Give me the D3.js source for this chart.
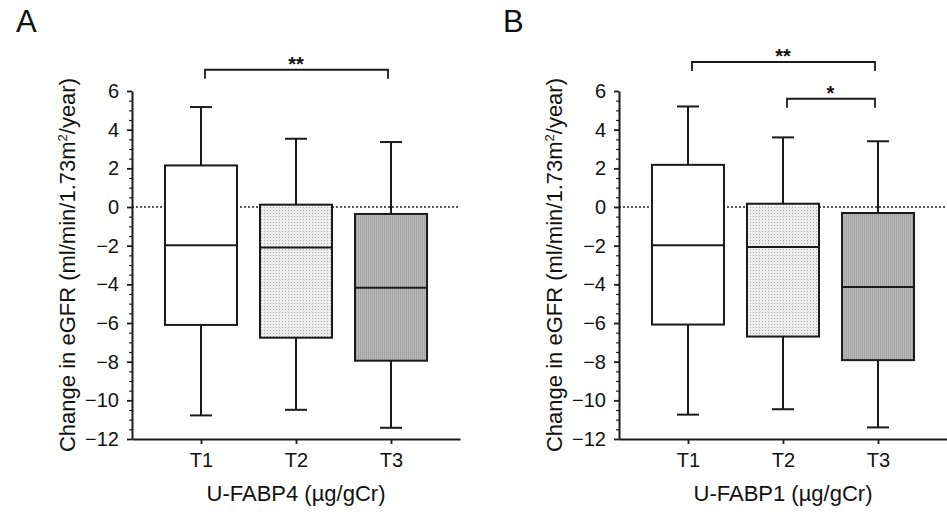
<!DOCTYPE html>
<html>
<head>
<meta charset="utf-8">
<script src="https://cdn.jsdelivr.net/npm/d3@7"></script>
<style>
  body { margin: 0; background: #fff; }
  text { font-family: "Liberation Sans", Arial, sans-serif; fill: #111; }
</style>
</head>
<body>
<svg id="chart" width="947" height="512"></svg>
<script>
// tertile groups on the x axis
var categories = ["T1", "T2", "T3"];
var yTicks = [-12, -10, -8, -6, -4, -2, 0, 2, 4, 6];

// box summaries: [low whisker, Q1, median, Q3, high whisker]
var fabp4Low    = [-10.78, -10.49, -11.42];
var fabp4Q1     = [-6.10, -6.76, -7.95];
var fabp4Median = [-1.98, -2.10, -4.18];
var fabp4Q3     = [2.15, 0.12, -0.36];
var fabp4High   = [5.17, 3.53, 3.36];

var fabp1Low    = [-10.74, -10.46, -11.40];
var fabp1Q1     = [-6.08, -6.70, -7.92];
var fabp1Median = [-1.98, -2.07, -4.14];
var fabp1Q3     = [2.18, 0.17, -0.31];
var fabp1High   = [5.20, 3.60, 3.40];

// significance brackets: [from, to, level(y value), label]
var fabp4Sig = [["T1", "T3", 7.1, "**"]];
var fabp1Sig = [["T1", "T3", 7.5, "**"], ["T2", "T3", 5.6, "*"]];

var panels = [
  { letter: "A", title: "U-FABP4 (\u00b5g/gCr)", x0: 132, x1: 460,
    low: fabp4Low, q1: fabp4Q1, med: fabp4Median, q3: fabp4Q3, high: fabp4High, sig: fabp4Sig },
  { letter: "B", title: "U-FABP1 (\u00b5g/gCr)", x0: 619, x1: 947,
    low: fabp1Low, q1: fabp1Q1, med: fabp1Median, q3: fabp1Q3, high: fabp1High, sig: fabp1Sig }
];

var svg = d3.select("#chart");
var plotTop = 91, plotBottom = 439, boxW = 72, capW = 22;

// fills: white, light dotted, gray striped
var defs = svg.append("defs");
var dots = defs.append("pattern").attr("id", "dots").attr("patternUnits", "userSpaceOnUse")
  .attr("width", 3).attr("height", 3);
dots.append("rect").attr("width", 3).attr("height", 3).attr("fill", "#eeeeee");
dots.append("rect").attr("width", 1).attr("height", 1).attr("fill", "#aaaaaa");
var stripes = defs.append("pattern").attr("id", "stripes").attr("patternUnits", "userSpaceOnUse")
  .attr("width", 2).attr("height", 2);
stripes.append("rect").attr("width", 2).attr("height", 2).attr("fill", "#bababa");
stripes.append("rect").attr("width", 1).attr("height", 2).attr("fill", "#a4a4a4");
var fills = ["#ffffff", "url(#dots)", "url(#stripes)"];

var y = d3.scaleLinear().domain([-12, 6]).range([plotBottom, plotTop]);

panels.forEach(function(p) {
  var x = d3.scalePoint().domain(categories).range([p.x0, p.x1]).padding(0.726);
  var g = svg.append("g");

  // panel letter
  g.append("text").attr("x", p.x0 - 116).attr("y", 32)
    .style("font-size", "31px").text(p.letter);

  // zero reference line
  g.append("line").attr("x1", p.x0).attr("x2", p.x1)
    .attr("y1", y(0)).attr("y2", y(0))
    .attr("stroke", "#222").attr("stroke-width", 1.3).attr("stroke-dasharray", "2,2");

  var boxes = categories.map(function(c, i) {
    return { cat: c, low: p.low[i], q1: p.q1[i], med: p.med[i], q3: p.q3[i], high: p.high[i], fill: fills[i] };
  });

  var b = g.selectAll(".box").data(boxes).enter().append("g").attr("class", "box");
  // whiskers
  b.append("line").attr("x1", d => x(d.cat)).attr("x2", d => x(d.cat))
    .attr("y1", d => y(d.high)).attr("y2", d => y(d.q3))
    .attr("stroke", "#1a1a1a").attr("stroke-width", 2);
  b.append("line").attr("x1", d => x(d.cat)).attr("x2", d => x(d.cat))
    .attr("y1", d => y(d.q1)).attr("y2", d => y(d.low))
    .attr("stroke", "#1a1a1a").attr("stroke-width", 2);
  b.append("line").attr("x1", d => x(d.cat) - capW / 2).attr("x2", d => x(d.cat) + capW / 2)
    .attr("y1", d => y(d.high)).attr("y2", d => y(d.high))
    .attr("stroke", "#1a1a1a").attr("stroke-width", 2);
  b.append("line").attr("x1", d => x(d.cat) - capW / 2).attr("x2", d => x(d.cat) + capW / 2)
    .attr("y1", d => y(d.low)).attr("y2", d => y(d.low))
    .attr("stroke", "#1a1a1a").attr("stroke-width", 2);
  // box
  b.append("rect").attr("x", d => x(d.cat) - boxW / 2).attr("width", boxW)
    .attr("y", d => y(d.q3)).attr("height", d => y(d.q1) - y(d.q3))
    .attr("fill", d => d.fill).attr("stroke", "#1a1a1a").attr("stroke-width", 2);
  b.append("line").attr("x1", d => x(d.cat) - boxW / 2).attr("x2", d => x(d.cat) + boxW / 2)
    .attr("y1", d => y(d.med)).attr("y2", d => y(d.med))
    .attr("stroke", "#1a1a1a").attr("stroke-width", 2);

  // y axis with minor ticks
  var minor = d3.range(-12, 6.01, 0.5).filter(v => yTicks.indexOf(v) < 0);
  g.append("g").attr("transform", "translate(" + p.x0 + ",0)")
    .call(d3.axisLeft(y).tickValues(minor).tickSize(3).tickFormat(""))
    .call(a => a.select(".domain").remove())
    .selectAll("line").attr("stroke", "#222").attr("stroke-width", 1.2);
  var ya = g.append("g").attr("transform", "translate(" + p.x0 + ",0)")
    .call(d3.axisLeft(y).tickValues(yTicks).tickSize(5).tickSizeOuter(0).tickPadding(8));
  ya.select(".domain").attr("stroke", "#1a1a1a").attr("stroke-width", 2);
  ya.selectAll("line").attr("stroke", "#1a1a1a").attr("stroke-width", 1.8);
  ya.selectAll("text").style("font-size", "20px").style("font-family", "Liberation Sans, Arial, sans-serif").attr("fill", "#111");

  // x axis
  var xa = g.append("g").attr("transform", "translate(0," + plotBottom + ")")
    .call(d3.axisBottom(x).tickSize(5).tickSizeOuter(0).tickPadding(9));
  xa.select(".domain").attr("stroke", "#1a1a1a").attr("stroke-width", 2);
  xa.selectAll("line").attr("stroke", "#1a1a1a").attr("stroke-width", 1.8);
  xa.selectAll("text").style("font-size", "20px").style("font-family", "Liberation Sans, Arial, sans-serif").attr("fill", "#111");

  // axis titles
  g.append("text").attr("x", x("T2")).attr("y", 501).attr("text-anchor", "middle")
    .style("font-size", "22px").text(p.title);
  var yt = g.append("text").attr("text-anchor", "middle")
    .attr("transform", "translate(" + (p.x0 - 57) + "," + ((plotTop + plotBottom) / 2) + ") rotate(-90)")
    .style("font-size", "22px");
  yt.append("tspan").text("Change in eGFR (ml/min/1.73m");
  yt.append("tspan").attr("dy", -8).style("font-size", "13px").text("2");
  yt.append("tspan").attr("dy", 8).text("/year)");

  // significance brackets
  var s = g.selectAll(".sig").data(p.sig).enter().append("g").attr("class", "sig");
  s.append("path")
    .attr("d", d => "M" + (x(d[0]) + 4) + "," + (y(d[2]) + 9) + "V" + y(d[2]) +
      "H" + (x(d[1]) - 3) + "V" + (y(d[2]) + 9))
    .attr("fill", "none").attr("stroke", "#1a1a1a").attr("stroke-width", 1.8);
  s.append("text").attr("x", d => (x(d[0]) + x(d[1])) / 2).attr("y", d => y(d[2]) + 1)
    .attr("text-anchor", "middle").style("font-size", "20px").style("font-weight", "bold")
    .text(d => d[3]);
});
</script>
</body>
</html>
